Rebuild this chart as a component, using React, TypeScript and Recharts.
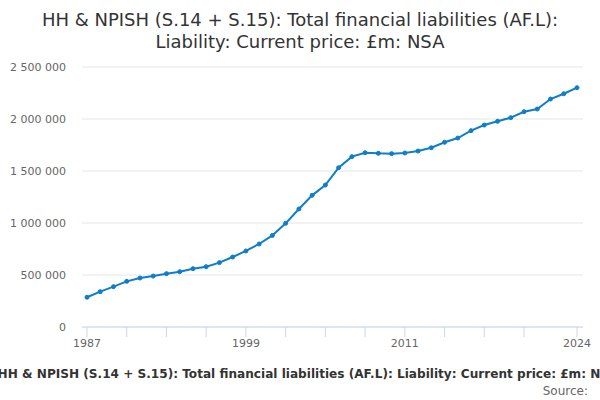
import { LineChart, Line, XAxis, YAxis, CartesianGrid } from "recharts";

const years = [
  1987, 1988, 1989, 1990, 1991, 1992, 1993, 1994, 1995, 1996,
  1997, 1998, 1999, 2000, 2001, 2002, 2003, 2004, 2005, 2006,
  2007, 2008, 2009, 2010, 2011, 2012, 2013, 2014, 2015, 2016,
  2017, 2018, 2019, 2020, 2021, 2022, 2023, 2024,
];

// £m
const liabilities = [
  286000, 340000, 388000, 439000, 471000, 490000, 513000, 532000, 561000, 580000,
  619000, 673000, 731000, 798000, 881000, 997000, 1135000, 1266000, 1365000, 1532000,
  1638000, 1676000, 1670000, 1667000, 1673000, 1692000, 1724000, 1776000, 1817000, 1888000,
  1942000, 1978000, 2013000, 2070000, 2096000, 2192000, 2243000, 2301000,
];

const xTicks = [1987, 1990, 1993, 1996, 1999, 2002, 2005, 2008, 2011, 2014, 2017, 2020, 2024];
const xLabels = [1987, 1999, 2011, 2024];
const yTicks = [0, 500000, 1000000, 1500000, 2000000, 2500000];

const title1 = "HH & NPISH (S.14 + S.15): Total financial liabilities (AF.L):";
const title2 = "Liability: Current price: £m: NSA";
const caption = "HH & NPISH (S.14 + S.15): Total financial liabilities (AF.L): Liability: Current price: £m: NSA";

const data = years.map((year, i) => ({ year, value: liabilities[i] }));

const FONT = "'DejaVu Sans', sans-serif";
const BLUE = "#0f7ec8";

const fmtThousands = (v: number) =>
  String(v).replace(/\B(?=(\d{3})+(?!\d))/g, " ");

export default function App() {
  return (
    <div
      style={{
        position: "absolute",
        top: 0,
        left: 0,
        width: 600,
        height: 400,
        background: "#fff",
        fontFamily: FONT,
        overflow: "hidden",
      }}
    >
      <LineChart
        width={600}
        height={400}
        data={data}
        margin={{ top: 67, right: 17, bottom: 43, left: 0 }}
      >
        <CartesianGrid vertical={false} stroke="#e6e6e6" />
        <XAxis
          dataKey="year"
          type="number"
          domain={[1987, 2024]}
          ticks={xTicks}
          tickFormatter={(v: number) => (xLabels.includes(v) ? String(v) : "")}
          padding={{ left: 5, right: 6 }}
          stroke="#ccd6eb"
          tickSize={10}
          tickMargin={2}
          tick={{ fill: "#666", fontSize: 11, fontFamily: FONT }}
          height={30}
        />
        <YAxis
          domain={[0, 2500000]}
          ticks={yTicks}
          tickFormatter={fmtThousands}
          axisLine={false}
          tickLine={false}
          width={82}
          tickMargin={10}
          tick={{ fill: "#666", fontSize: 11, fontFamily: FONT }}
        />
        <Line
          dataKey="value"
          stroke={BLUE}
          strokeWidth={2}
          dot={{ r: 2, fill: BLUE, stroke: BLUE, strokeWidth: 1 }}
          isAnimationActive={false}
        />
        <text x={300} y={26} textAnchor="middle" fontSize={18} fill="#333" fontFamily={FONT}>
          {title1}
        </text>
        <text x={300} y={48} textAnchor="middle" fontSize={18} fill="#333" fontFamily={FONT}>
          {title2}
        </text>
        <text x={308} y={378} textAnchor="middle" fontSize={12.1} fontWeight="bold" fill="#333" fontFamily={FONT}>
          {caption}
        </text>
        <text x={588} y={395} textAnchor="end" fontSize={12} fill="#666" fontFamily={FONT}>
          Source:
        </text>
      </LineChart>
    </div>
  );
}
